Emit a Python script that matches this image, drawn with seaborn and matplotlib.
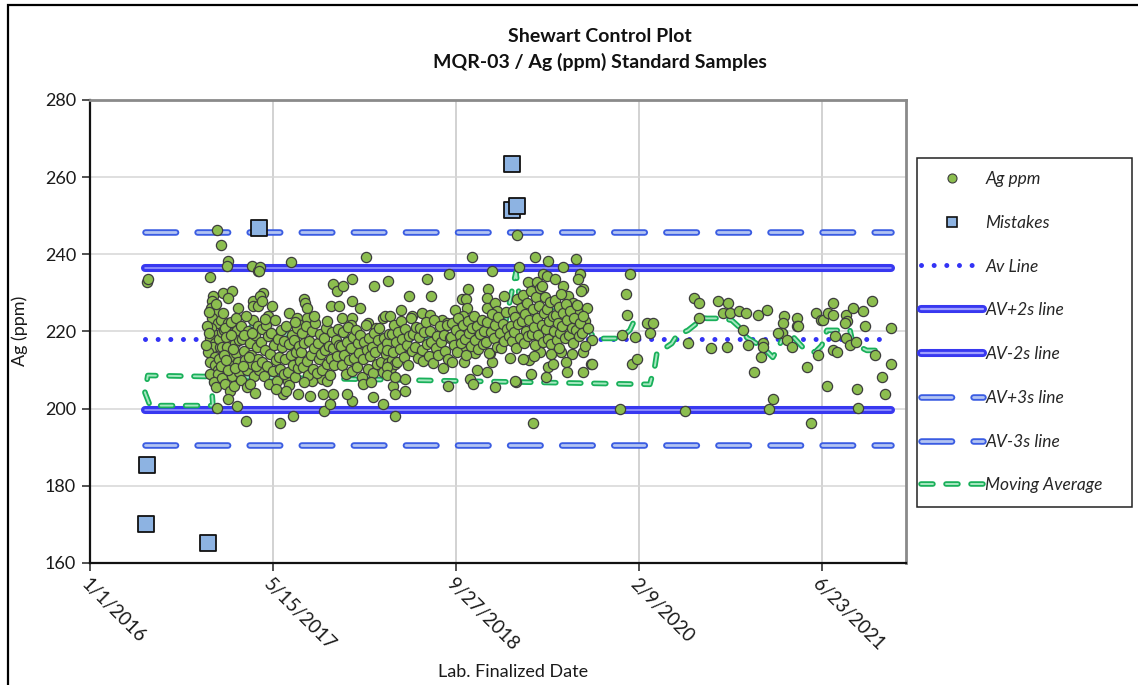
import numpy as np
import pandas as pd
import matplotlib
matplotlib.use("Agg")
import matplotlib.pyplot as plt
import seaborn as sns
from matplotlib.lines import Line2D
from matplotlib.patches import Rectangle
from matplotlib.legend_handler import HandlerTuple

sns.set_theme(style="white")
plt.rcParams["font.family"] = ["Lato", "DejaVu Sans"]
plt.rcParams["lines.scale_dashes"] = False

START = pd.Timestamp("2016-01-01")

# ---------------------------------------------------------------- data
# Ag (ppm) results, dates given as days after 1/1/2016
days_2016 = [156, 158, 328, 336, 333, 331, 347, 333, 350, 331, 347, 328, 341, 336, 355, 322, 341,
             328, 341, 350, 328, 350, 318, 320, 325, 344, 352, 338, 345, 347, 325, 353, 358, 347,
             363, 358, 360, 362, 357, 361, 365]
ppm_2016 = [232.7, 233.5, 234.0, 229.1, 228.0, 226.2, 224.9, 223.6, 222.1, 220.8, 219.0, 218.2, 217.0,
            215.9, 215.9, 214.6, 213.3, 212.0, 211.2, 210.0, 208.9, 209.1, 216.5, 221.5, 225.0, 227.0,
            213.0, 207.0, 205.5, 200.3, 219.5, 218.0, 242.5, 246.4, 230.1, 223.0, 219.8, 216.0, 211.0,
            208.0, 220.5]

days_2017a = [377, 374, 388, 377, 363, 377, 404, 368, 372, 375, 380, 384, 388, 392, 396, 400, 404, 408,
              370, 382, 394, 403, 386, 398, 378, 390, 366, 406, 377, 402, 385, 372, 395,
              443, 459, 464, 462, 445, 445, 412, 416, 420, 424, 428, 432, 436, 440, 444, 448, 452,
              456, 460, 414, 430, 446, 458, 426, 438, 450, 418, 462, 434, 454, 426, 422, 442]
ppm_2017a = [238.4, 237.1, 230.6, 228.8, 224.9, 222.1, 226.2, 221.0, 218.5, 216.0, 213.5, 211.0, 208.5,
             219.5, 217.0, 214.5, 212.0, 209.5, 206.5, 204.5, 206.0, 220.5, 222.5, 223.5, 210.0, 215.5,
             214.0, 217.8, 202.4, 200.8, 219.0, 212.5, 210.5,
             237.1, 235.8, 236.6, 235.6, 228.0, 226.7, 221.5, 218.0, 215.0, 212.5, 210.0, 220.0, 217.0,
             214.0, 211.5, 208.5, 219.0, 216.0, 213.0, 207.5, 205.5, 223.0, 221.5, 224.0, 206.5, 204.0,
             211.0, 210.0, 213.5, 211.0, 196.7, 219.0, 219.5]

days_2017b = [473, 464, 497, 544, 486, 459, 470, 549, 519, 555, 527, 541, 566, 574,
              466, 469, 471, 475, 478, 481, 483, 487, 490, 493, 495, 499, 502, 505, 507, 511, 514,
              517, 520, 523, 526, 529, 531, 534, 537, 540, 543, 545, 548, 551, 554, 557, 560, 563,
              565, 568, 571, 573, 477, 509, 535, 559]
ppm_2017b = [230.1, 229.3, 226.6, 224.9, 223.9, 226.7, 228.0, 237.9, 196.4, 198.0, 203.9, 207.3, 223.4,
             221.6,
             217.3, 212.1, 220.6, 208.4, 215.2, 221.8, 211.0, 218.9, 206.3, 214.1, 219.7, 209.8, 216.4,
             222.9, 212.6, 207.1, 218.1, 213.4, 210.2, 220.4, 215.9, 208.9, 217.6, 212.8, 221.3, 209.5,
             216.7, 206.2, 213.9, 219.1, 211.4, 217.9, 208.1, 214.6, 220.8, 210.6, 216.2, 212.3, 223.2,
             205.1, 204.6, 222.4]

days_2017c = [658, 680, 664, 675, 691, 689, 716, 639, 656, 637, 664, 601, 568, 607, 634, 648, 585, 587,
              593, 593,
              576, 579, 582, 586, 589, 592, 596, 599, 603, 606, 609, 613, 616, 619, 622, 626, 629,
              632, 635, 639, 642, 645, 649, 652, 655, 659, 662, 665, 668, 672, 675, 678, 681, 584,
              611, 647]
ppm_2017c = [226.7, 226.7, 232.2, 230.6, 231.7, 223.6, 233.7, 199.3, 201.3, 203.9, 203.9, 203.4, 203.9,
             207.3, 207.8, 207.3, 228.3, 227.3, 226.0, 223.6,
             214.8, 219.6, 210.7, 216.9, 221.4, 212.3, 208.6, 217.5, 213.9, 220.2, 210.4, 215.6, 222.1,
             209.2, 217.0, 212.9, 219.3, 214.2, 210.1, 218.2, 215.1, 221.0, 211.7, 216.3, 208.8, 213.0,
             219.9, 215.8, 211.2, 217.8, 213.6, 220.6, 216.6, 206.9, 224.0, 222.6]

days_2018a = [716, 738, 716, 713, 760, 781, 801, 754, 776, 814, 806, 820, 716, 773, 801, 702,
              685, 688, 692, 695, 699, 702, 705, 709, 712, 715, 719, 722, 726, 729, 732, 736, 739,
              743, 746, 749, 753, 756, 759, 763, 766, 770, 773, 777, 780, 783, 787, 790, 794, 797,
              801, 804, 808, 811, 815, 818, 745, 768]
ppm_2018a = [228.0, 226.0, 223.6, 221.6, 222.1, 221.0, 223.6, 239.4, 231.7, 233.2, 223.9, 223.9, 201.9,
             202.9, 201.3, 203.9,
             216.2, 211.3, 219.8, 214.0, 208.9, 217.4, 221.2, 212.6, 215.8, 209.7, 218.7, 213.2, 220.4,
             210.8, 216.9, 214.5, 219.1, 208.1, 212.9, 217.2, 221.8, 215.3, 210.4, 218.4, 213.7, 216.0,
             209.3, 219.6, 214.8, 211.6, 217.7, 220.9, 212.2, 215.6, 209.6, 218.3, 214.1, 216.9, 211.8,
             219.3, 206.3, 207.0]

days_2018b = [872, 921, 932, 981, 850, 880, 907, 929, 962, 975, 855, 828, 833, 860, 833, 860, 978, 825,
              822, 811, 833, 811, 811, 833,
              824, 827, 831, 836, 839, 843, 847, 851, 854, 858, 862, 866, 869, 873, 877, 881, 884,
              888, 892, 896, 899, 903, 907, 911, 914, 918, 922, 926, 929, 933, 937, 941, 945, 948,
              952, 956, 960, 964, 968, 971, 975, 979, 983]
ppm_2018b = [229.1, 233.7, 229.3, 234.8, 225.7, 223.9, 224.7, 224.4, 222.9, 222.3, 215.9, 206.0, 203.9,
             204.7, 198.0, 207.8, 206.0, 212.5, 210.5, 215.1, 211.7, 210.7, 208.6, 208.1,
             219.4, 214.6, 221.7, 217.2, 212.0, 219.9, 215.4, 222.6, 218.1, 213.3, 220.6, 216.5, 211.4,
             218.8, 223.4, 214.9, 219.3, 216.0, 221.2, 213.1, 218.5, 220.9, 215.1, 212.4, 219.8, 222.4,
             216.8, 213.6, 220.1, 217.4, 211.8, 222.9, 215.7, 218.9, 213.9, 221.5, 217.3, 210.6, 219.0,
             215.0, 221.8, 212.8, 218.2]

days_2019a = [1044, 1098, 1033, 1016, 1027, 1030, 997, 1087, 1085, 1085, 1107, 1112, 1131, 989, 1019,
              1022, 1052, 1057, 1085, 1098, 1093, 1038, 1046, 1107, 1019,
              986, 990, 994, 999, 1003, 1007, 1011, 1015, 1020, 1024, 1028, 1032, 1036, 1040, 1045,
              1049, 1053, 1057, 1061, 1066, 1070, 1074, 1078, 1082, 1086, 1091, 1095, 1099, 1103,
              1107, 1111, 1116, 1120, 1124, 1128, 1132, 1136, 1140, 1144, 1147]
ppm_2019a = [239.4, 235.8, 231.1, 228.3, 228.3, 226.2, 225.7, 231.1, 228.6, 226.2, 227.5, 225.4, 229.3,
             212.0, 215.6, 212.0, 214.3, 209.9, 209.4, 212.0, 214.3, 207.8, 206.5, 205.7, 223.9,
             218.6, 222.3, 216.4, 220.5, 214.7, 223.4, 219.1, 216.9, 221.8, 218.0, 213.9, 222.8, 219.6,
             216.2, 220.9, 224.1, 217.7, 221.3, 215.5, 219.4, 223.0, 216.8, 220.2, 217.4, 222.5, 214.4,
             219.8, 224.6, 218.3, 221.6, 216.1, 223.7, 219.5, 215.8, 222.0, 217.6, 225.1, 220.7, 218.8,
             213.2]

days_2019b = [1167, 1216, 1251, 1172, 1292, 1328, 1339, 1333, 1347, 1341, 1197, 1221, 1238, 1249, 1270,
              1292, 1306, 1320, 1358, 1333, 1352, 1352, 1372, 1347, 1369, 1347, 1317, 1301, 1303, 1287,
              1251, 1265, 1246, 1205, 1199, 1229, 1164, 1210, 1161, 1372,
              1150, 1153, 1156, 1159, 1162, 1165, 1168, 1171, 1174, 1177, 1180, 1183, 1186, 1189, 1192,
              1195, 1198, 1201, 1204, 1207, 1210, 1213, 1216, 1219, 1222, 1225, 1228, 1231, 1234, 1237,
              1240, 1243, 1246, 1249, 1252, 1255, 1258, 1261, 1264, 1267, 1270, 1273, 1276, 1279, 1282,
              1285, 1288, 1291, 1294, 1297, 1300, 1304, 1308, 1312, 1316, 1320, 1324, 1328, 1332, 1336,
              1340, 1344, 1348, 1354, 1360, 1182, 1214, 1236, 1259, 1281]
ppm_2019b = [245.1, 239.2, 238.4, 236.8, 236.6, 238.7, 235.0, 233.7, 231.1, 230.4, 232.9, 232.7, 235.0,
             234.3, 233.5, 231.7, 229.3, 227.5, 226.2, 224.7, 222.6, 221.0, 217.7, 214.6, 211.5, 209.6,
             214.1, 212.2, 209.6, 214.6, 210.9, 211.5, 208.1, 209.1, 212.7, 214.6, 206.8, 196.2, 207.3,
             211.7,
             221.4, 217.6, 225.3, 219.9, 223.7, 215.8, 228.4, 221.9, 218.3, 226.1,
             222.7, 229.5, 216.9, 224.6, 220.2, 227.3, 218.8, 223.0, 230.6, 219.4,
             225.8, 221.1, 216.4, 228.9, 223.5, 219.0, 226.7, 231.2, 221.7, 217.3,
             224.9, 229.0, 220.6, 225.9, 218.1, 222.8, 227.6, 216.7, 223.9, 220.1,
             228.2, 224.4, 217.9, 222.2, 226.3, 219.6, 229.8, 221.5, 224.7, 218.4,
             227.0, 222.9, 219.2, 225.4, 221.0, 217.1, 223.6, 220.5, 226.8, 218.9,
             222.2, 219.7, 224.1, 216.3, 220.8, 212.9, 213.6, 231.8, 214.2, 215.7]

days_2020 = [1448, 1465, 1467, 1453, 1489, 1481, 1494, 1475,
             1522, 1538, 1530, 1626, 1650, 1664, 1664, 1634, 1697, 1716,
             1743, 1729, 1749, 1740, 1773, 1792, 1784, 1798, 1825, 1850,
             1839, 1839, 1833, 1814, 1866, 1855, 1896, 1893, 1891, 1880,
             1904, 1918, 1932, 1932, 1934, 1959, 1970, 1984, 1997, 2003,
             2016, 2030, 2030, 2035, 1989, 2014, 2030, 2041, 2065, 2068,
             2063, 2085, 2065, 2077, 2093, 2096, 2098, 2112, 2117, 2137,
             2145, 2164, 2172, 2188, 2188]
ppm_2020 = [199.8, 229.6, 224.4, 219.0, 218.7, 211.7, 213.0, 234.8,
            222.1, 222.1, 219.5, 199.3, 228.8, 227.5, 223.6, 216.9, 215.6, 228.0,
            227.3, 224.9, 224.9, 216.1, 225.2, 224.9, 220.5, 216.4, 224.4, 225.7,
            217.1, 215.9, 213.3, 209.6, 202.6, 200.0, 223.9, 222.1, 219.7, 219.7,
            217.7, 216.1, 223.6, 221.3, 221.3, 210.9, 196.2, 224.7, 222.9, 223.1,
            224.7, 224.4, 227.5, 218.9, 213.8, 206.0, 215.1, 214.8, 224.4, 222.6,
            222.1, 226.2, 218.2, 216.4, 217.4, 205.2, 200.3, 225.4, 221.3, 227.8,
            213.8, 208.3, 203.9, 220.8, 211.7]

# results flagged as mistakes
mistake_days = [153, 156, 322, 462, 1153, 1153, 1167]
mistake_ppm = [170.2, 185.5, 165.3, 246.8, 263.3, 251.6, 252.4]

# moving average, in sample order
ma_days = [1484, 1475, 1448, 1407, 1380, 1352, 1325, 1284, 1251, 1216,
           1175, 1164, 1156, 1134, 1107, 1093, 1038, 984, 929, 874,
           842, 792, 743, 710, 678, 628, 587, 560, 541, 505,
           464, 423, 374, 331, 333, 336, 164, 150, 158, 1530,
           1544, 1549, 1590, 1604, 1634, 1658, 1664, 1686, 1729, 1754,
           1784, 1795, 1839, 1866, 1877, 1904, 1913, 1948, 1981, 2000,
           2014, 2077, 2085, 2123, 2167]
ma_ppm = [222.1, 220.3, 218.2, 218.2, 218.2, 221.6, 226.0, 227.3, 225.4, 222.9,
          228.0, 235.3, 231.9, 221.6, 219.0, 222.9, 220.3, 219.0, 217.7, 219.0,
          216.4, 219.0, 216.4, 217.7, 220.3, 216.4, 221.0, 215.1, 219.5, 217.7,
          224.1, 219.0, 223.6, 214.3, 204.7, 200.8, 200.8, 204.2, 208.6, 206.3,
          211.2, 214.3, 216.9, 219.0, 220.3, 222.1, 223.6, 223.4, 223.4, 222.9,
          220.3, 218.4, 215.9, 213.3, 215.1, 220.3, 219.5, 215.9, 214.6, 216.4,
          220.3, 220.3, 216.9, 215.1, 215.1]

# control limits
av_ppm = 218.1
sd_ppm = 9.2
limit_days = [150, 2190]

tick_labels = ["1/1/2016", "5/15/2017", "9/27/2018", "2/9/2020", "6/23/2021"]
x_max_days = 2230

# ---------------------------------------------------------------- frames
def to_dates(d):
    return START + pd.to_timedelta(np.asarray(d), unit="D")

ag_days = days_2016 + days_2017a + days_2017b + days_2017c + days_2018a + days_2018b + \
    days_2019a + days_2019b + days_2020
ag_ppm = ppm_2016 + ppm_2017a + ppm_2017b + ppm_2017c + ppm_2018a + ppm_2018b + \
    ppm_2019a + ppm_2019b + ppm_2020
assert len(ag_days) == len(ag_ppm)
ag = pd.DataFrame({"date": to_dates(ag_days), "ppm": ag_ppm})
mist = pd.DataFrame({"date": to_dates(mistake_days), "ppm": mistake_ppm})
ma = pd.DataFrame({"date": to_dates(ma_days), "ppm": ma_ppm})

# ---------------------------------------------------------------- figure
W, H = 1138, 685
fig = plt.figure(figsize=(W / 100, H / 100), dpi=100)
fig.patch.set_facecolor("white")
ax = fig.add_axes([90 / W, 1 - 563 / H, (906 - 90) / W, (563 - 100) / H])

C_AG, C_AG_EDGE = "#8CBE4F", "#3d3d3d"
C_MIS = "#8DB3E2"
C_AV = "#3333F5"
C2_OUT, C2_IN = "#3838F0", "#A0A0FF"
C3_OUT, C3_IN = "#3A5CE2", "#B3C4F2"
CMA_OUT, CMA_IN = "#19B05A", "#A6E8C0"

DASH3 = (22, 15.5)
DASHMA = (8.6, 9.4)
DOTS = (0.01, 9.1)

lim_x = to_dates(limit_days)


def hline(value, color, lw, dashes=None, z=2):
    ln, = ax.plot(lim_x, [value, value], color=color, lw=lw, solid_capstyle="round",
                  dash_capstyle="round", zorder=z)
    if dashes is not None:
        ln.set_dashes(dashes)
    return ln


# ±3s limits (hollow dashed capsules)
for k in (3, -3):
    v = av_ppm + k * sd_ppm
    hline(v, C3_OUT, 4.7, DASH3, z=2)
    hline(v, C3_IN, 2.0, DASH3, z=2.1)
# ±2s limits (heavy lines)
for k in (2, -2):
    v = av_ppm + k * sd_ppm
    hline(v, C2_OUT, 5.8, z=2.2)
    hline(v, C2_IN, 1.1, z=2.3)
# average line (round dots)
hline(av_ppm, C_AV, 3.6, DOTS, z=2.4)

# moving average
sns.lineplot(data=ma, x="date", y="ppm", sort=False, estimator=None, ax=ax,
             color=CMA_OUT, lw=4.0, zorder=3)
ax.lines[-1].set_dashes(DASHMA)
ax.lines[-1].set_dash_capstyle("round")
sns.lineplot(data=ma, x="date", y="ppm", sort=False, estimator=None, ax=ax,
             color=CMA_IN, lw=1.4, zorder=3.1)
ax.lines[-1].set_dashes(DASHMA)
ax.lines[-1].set_dash_capstyle("round")

# sample results
sns.scatterplot(data=ag, x="date", y="ppm", ax=ax, marker="o", s=54, color=C_AG,
                edgecolor=C_AG_EDGE, linewidth=0.9, zorder=4, legend=False)
sns.scatterplot(data=mist, x="date", y="ppm", ax=ax, marker="s", s=125, color=C_MIS,
                edgecolor="#111111", linewidth=1.3, zorder=5, legend=False)

# ---------------------------------------------------------------- axes
ax.set_ylim(160, 280)
ax.set_yticks(np.arange(160, 281, 20))
ax.set_xlim(START, START + pd.Timedelta(days=x_max_days))
tick_dates = pd.to_datetime(tick_labels, format="%m/%d/%Y")
ax.set_xticks(tick_dates)
ax.set_xticklabels(tick_labels, rotation=-45, ha="left", va="top",
                   rotation_mode="anchor", fontsize=13.5, color="#1a1a1a")
for t in ax.get_yticklabels():
    t.set_fontsize(13)
    t.set_color("#1a1a1a")

ax.grid(True, axis="y", color="#d6d6d6", lw=1.1)
ax.grid(True, axis="x", color="#c6c6c6", lw=1.1)
ax.set_axisbelow(True)
ax.tick_params(axis="both", direction="out", length=6, width=1.1, color="#222222",
               bottom=True, left=True, pad=4)
ax.tick_params(axis="x", pad=3)
for side in ("left", "bottom"):
    ax.spines[side].set_color("#111111")
    ax.spines[side].set_linewidth(1.6)
for side in ("top", "right"):
    ax.spines[side].set_color("#8a8a8a")
    ax.spines[side].set_linewidth(2.0)

ax.set_xlabel("")
ax.set_ylabel("")
fig.text(20 / W, 1 - 331 / H, "Ag (ppm)", rotation=90, ha="center", va="center",
         fontsize=13, color="#1a1a1a")
fig.text(513 / W, 1 - 672 / H, "Lab. Finalized Date", ha="center", va="center",
         fontsize=13, color="#1a1a1a")

# titles
fig.text(600 / W, 1 - 37 / H, "Shewart Control Plot", ha="center", va="center",
         fontsize=14, fontweight="bold", color="#111111")
fig.text(600 / W, 1 - 62 / H, "MQR-03 / Ag (ppm) Standard Samples", ha="center",
         va="center", fontsize=14, fontweight="bold", color="#111111")

# chart border
fig.patches.append(Rectangle((8 / W, -0.1), 1.2, 1.1 - 5 / H, transform=fig.transFigure,
                             fill=False, ec="black", lw=1.6, zorder=0))

# ---------------------------------------------------------------- legend
fig.patches.append(Rectangle((917 / W, 1 - 507 / H), 215 / W, 349 / H,
                             transform=fig.transFigure, fill=False, ec="#222222", lw=1.1))


def pair(out_c, in_c, lw_o, lw_i, dashes=None):
    a = Line2D([], [], color=out_c, lw=lw_o, solid_capstyle="round", dash_capstyle="round")
    b = Line2D([], [], color=in_c, lw=lw_i, solid_capstyle="round", dash_capstyle="round")
    if dashes is not None:
        a.set_dashes(dashes)
        b.set_dashes(dashes)
    return (a, b)


h_ag = Line2D([], [], ls="none", marker="o", ms=6.5, mfc=C_AG, mec=C_AG_EDGE, mew=0.8)
h_mis = Line2D([], [], ls="none", marker="s", ms=7.5, mfc=C_MIS, mec="#111111", mew=1.2)
h_av = Line2D([], [], color=C_AV, lw=3.6, dash_capstyle="round")
h_av.set_dashes(DOTS)
handles = [h_ag, h_mis, h_av,
           pair(C2_OUT, C2_IN, 5.8, 1.6), pair(C2_OUT, C2_IN, 5.8, 1.6),
           pair(C3_OUT, C3_IN, 4.7, 2.0, DASH3), pair(C3_OUT, C3_IN, 4.7, 2.0, DASH3),
           pair(CMA_OUT, CMA_IN, 4.0, 1.4, DASHMA)]
labels = ["Ag ppm", "Mistakes", "Av Line", "AV+2s line", "AV-2s line", "AV+3s line",
          "AV-3s line", "Moving Average"]
fig.legend(handles, labels, loc="upper left", bbox_to_anchor=(921 / W, 1 - 171 / H),
           bbox_transform=fig.transFigure, frameon=False, borderpad=0, borderaxespad=0,
           handlelength=3.55, handletextpad=0.15, labelspacing=1.6,
           prop={"size": 12.5, "style": "italic"},
           handler_map={tuple: HandlerTuple(ndivide=1, pad=0)})

fig.savefig("out.png", dpi=100, facecolor="white")
